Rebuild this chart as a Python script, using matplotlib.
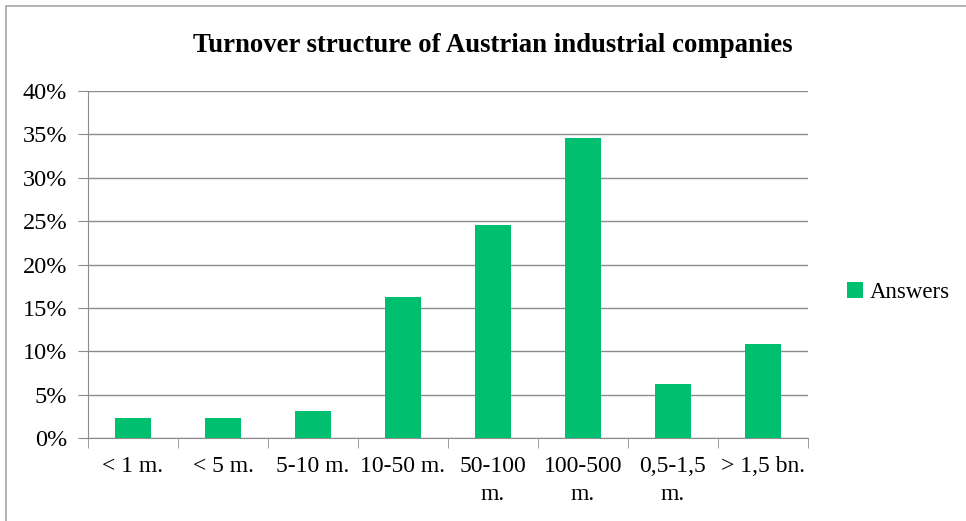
import matplotlib.pyplot as plt
from matplotlib.patches import Rectangle
from matplotlib.ticker import PercentFormatter, FixedLocator

plt.rcParams['font.family'] = ['Liberation Serif', 'DejaVu Serif']

categories = ['< 1 m.', '< 5 m.', '5-10 m.', '10-50 m.', '50-100\nm.',
              '100-500\nm.', '0,5-1,5\nm.', '> 1,5 bn.']
answers = [2.3, 2.3, 3.1, 16.2, 24.6, 34.6, 6.2, 10.8]

fig = plt.figure(figsize=(9.66, 5.21), dpi=100)
fig.patches.append(Rectangle((6 / 966, -0.1), 1.2, (1 - 6 / 521) + 0.1,
                             transform=fig.transFigure, fill=False,
                             edgecolor='#a6a6a6', lw=1.2))

ax = fig.add_axes([88 / 966, 1 - 438 / 521, 720 / 966, 347 / 521])
x = list(range(len(categories)))
bars = ax.bar(x, answers, width=0.4, color='#00bf6f', label='Answers', zorder=3)

ax.set_xlim(-0.5, len(categories) - 0.5)
ax.set_ylim(0, 40)
ax.set_yticks(range(0, 41, 5))
ax.yaxis.set_major_formatter(PercentFormatter(decimals=0))
ax.grid(axis='y', color='#8c8c8c', lw=1, zorder=0)

ax.set_xticks(x)
ax.set_xticklabels(categories, fontsize=17, linespacing=1.45)
ax.xaxis.set_minor_locator(FixedLocator([i - 0.5 for i in range(len(categories) + 1)]))
ax.tick_params(axis='x', which='major', length=0, pad=13)
ax.tick_params(axis='x', which='minor', length=7, color='#8c8c8c', direction='out')
ax.tick_params(axis='y', labelsize=17.5, length=7, color='#8c8c8c', pad=8)

for s in ['top', 'right']:
    ax.spines[s].set_visible(False)
for s in ['left', 'bottom']:
    ax.spines[s].set_color('#8c8c8c')

fig.text(493 / 966, 1 - 45 / 521, 'Turnover structure of Austrian industrial companies',
         fontsize=19.3, fontweight='bold', ha='center', va='center')

ax.legend(loc='center left', bbox_to_anchor=(1.025, 0.418), frameon=False,
          fontsize=16.5, handlelength=0.7, handleheight=0.7, handletextpad=0.3)

fig.savefig('out.png', dpi=100)
